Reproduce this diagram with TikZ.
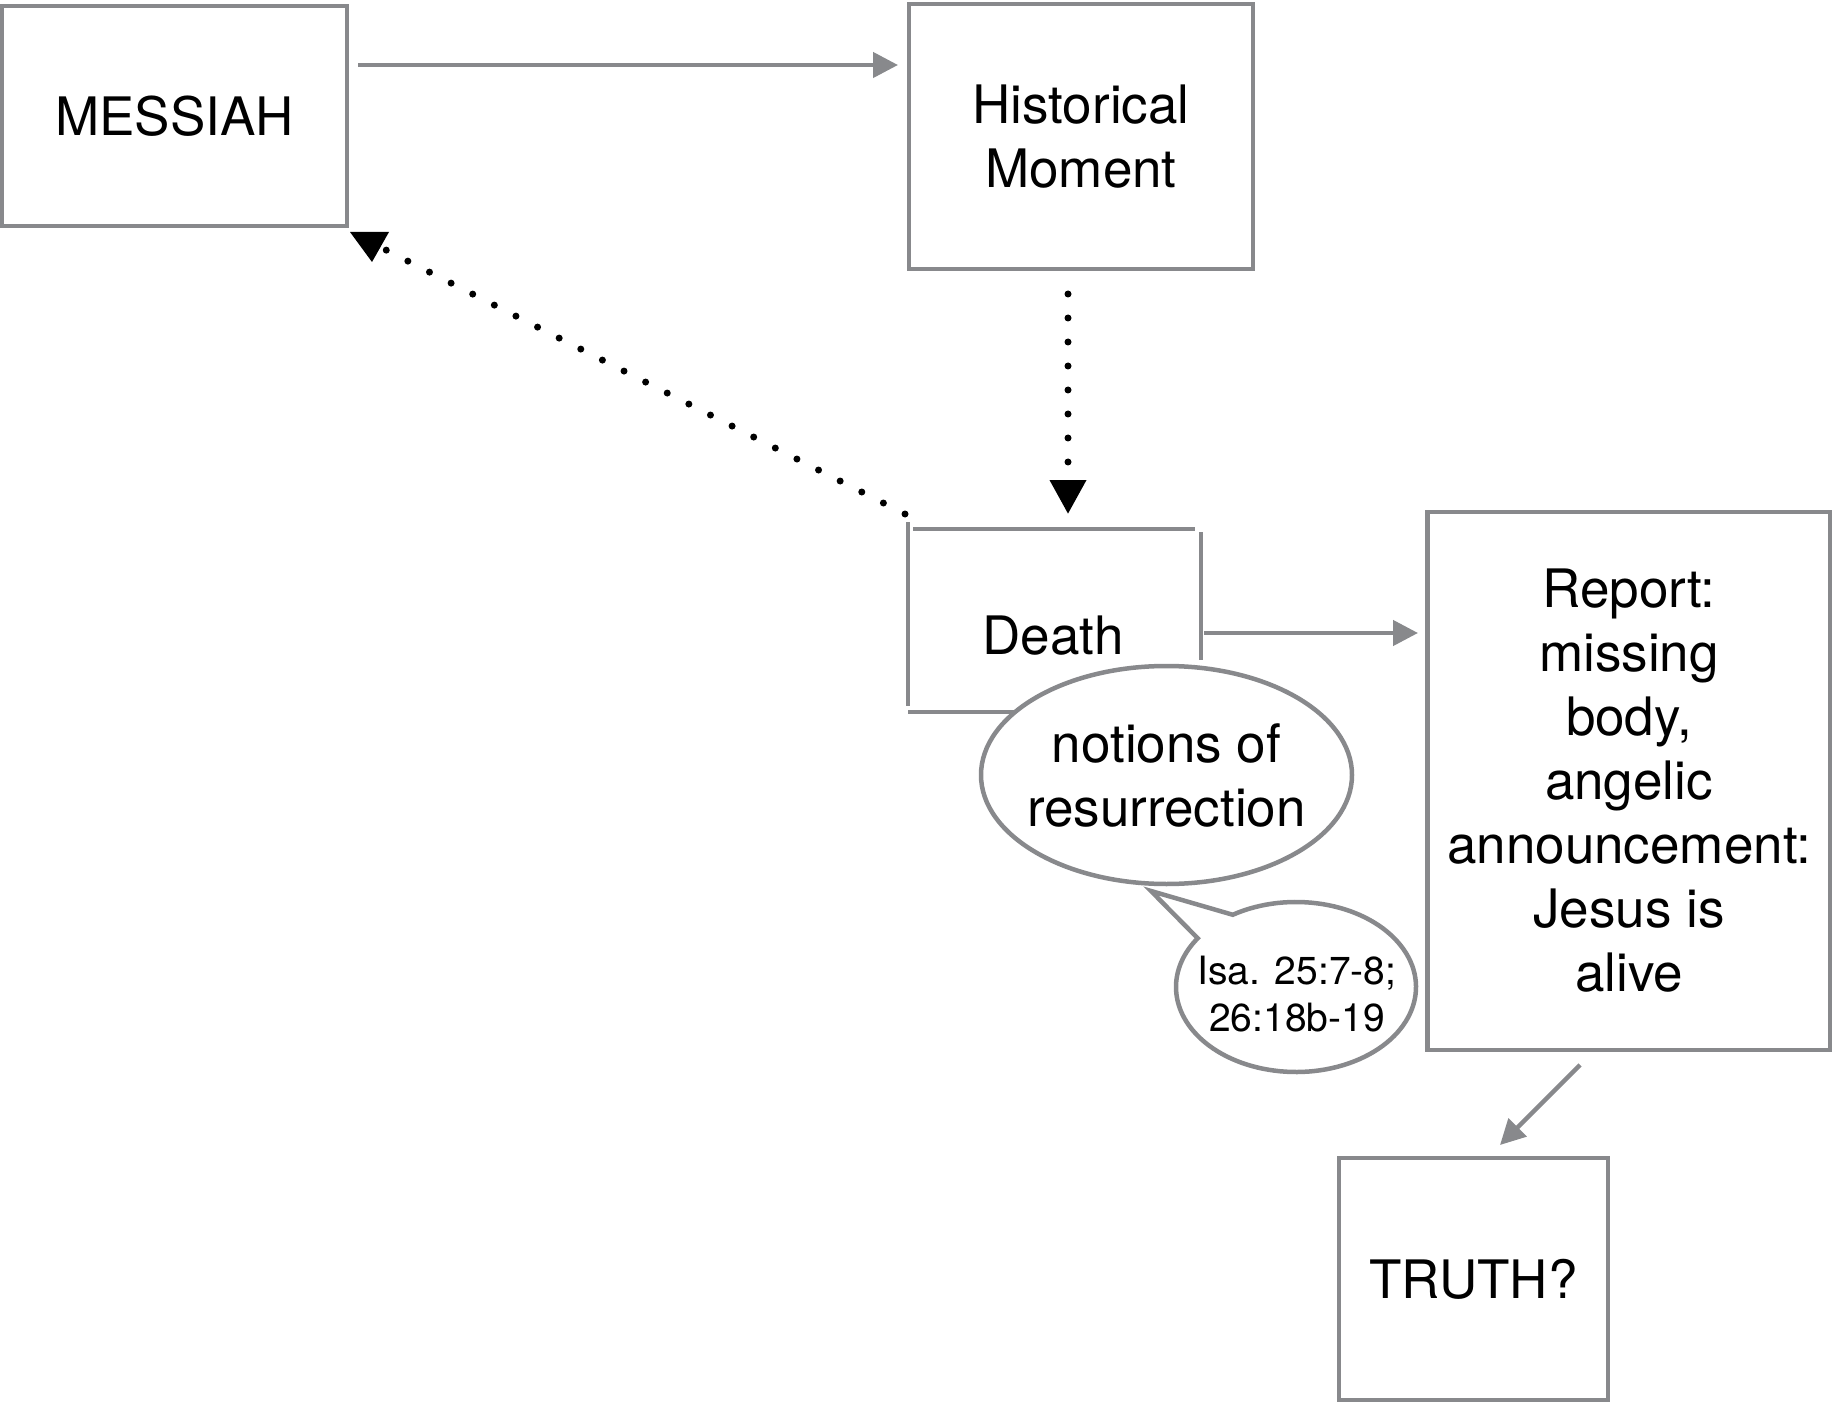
\documentclass[tikz,border=0pt]{standalone}
\usepackage{fontspec}
\setmainfont{TeX Gyre Heros}
\usetikzlibrary{shapes.geometric,arrows.meta}
\definecolor{lg}{RGB}{136,137,140}
\newcommand{\dgbig}{\fontsize{53}{64}\selectfont}
\newcommand{\dgsmall}{\fontsize{39}{47}\selectfont}
\begin{document}
\begin{tikzpicture}[x=1pt,y=-1pt,
  box/.style={draw=lg,line width=4.5pt,rectangle,inner sep=0pt,align=center,font=\dgbig},
  txt/.style={inner sep=0pt,align=center,font=\dgbig},
  frame/.style={draw=lg,line width=4.5pt},
  garrow/.style={draw=lg,line width=4.5pt,-{Triangle[length=25pt,width=25pt]}},
  dots/.style={draw=black,line width=7pt,line cap=round},
  bubble/.style={draw=lg,line width=4.5pt,fill=white}]
\useasboundingbox (0,0) rectangle (1832,1404);
% boxes
\node[box,minimum width=345pt,minimum height=220pt] (messiah) at (174.5,116) {MESSIAH};
\node[box,minimum width=344pt,minimum height=265pt] (hist) at (1081,136.5) {Historical\\Moment};
\node[box,minimum width=403pt,minimum height=538pt] (report) at (1629,781) {Report:\\missing\\body,\\angelic\\announcement:\\Jesus is\\alive};
\node[box,minimum width=269pt,minimum height=242pt] (truth) at (1473.5,1279) {TRUTH?};
% broken Death frame
\draw[frame] (908,522) -- (908,706);
\draw[frame] (913,529) -- (1195,529);
\draw[frame] (1201,532) -- (1201,660);
\draw[frame] (908,712) -- (1040,712);
\node[txt] (death) at (1053,636) {Death};
% notions ellipse
\coordinate (nc) at (1166.5,775);
\draw[bubble] (nc) ellipse [x radius=185.5, y radius=109];
\node[txt] (notions) at (nc) {notions of\\resurrection};
% speech bubble
\coordinate (tip) at (1151,891);
\draw[bubble] ({1296+120*cos(215)},{987+85*sin(215)}) -- (tip) -- ({1296+120*cos(238.2)},{987+85*sin(238.2)}) arc[start angle=238.2,end angle=575,x radius=120,y radius=85] -- cycle;
\node[inner sep=0pt,align=center,font=\dgsmall] (isa) at (1297,994) {Isa. 25:7-8;\\26:18b-19};
% connectors
\coordinate (a1s) at (358,65);
\coordinate (a1e) at (898,65);
\draw[garrow] (a1s) -- (a1e);
\coordinate (a2s) at (1204,633);
\coordinate (a2e) at (1418,633);
\draw[garrow] (a2s) -- (a2e);
\coordinate (a3s) at (1580,1065);
\coordinate (a3e) at (1500,1145);
\draw[garrow] (a3s) -- (a3e);
% dotted: Historical -> Death
\coordinate (d1s) at (1068,294);
\coordinate (d1e) at (1068,514);
\draw[dots,dash pattern=on 0pt off 24pt,-{Triangle[length=34pt,width=35pt]}] (d1s) -- (d1e);
% dotted: Death -> MESSIAH
\coordinate (d2s) at (905,514);
\coordinate (d2e) at (386,250);
\draw[dots,dash pattern=on 0pt off 24.25pt] (d2s) -- (d2e);
\fill[black] (350,232) -- (389,232) -- (372,262) -- cycle;
\end{tikzpicture}
\end{document}
